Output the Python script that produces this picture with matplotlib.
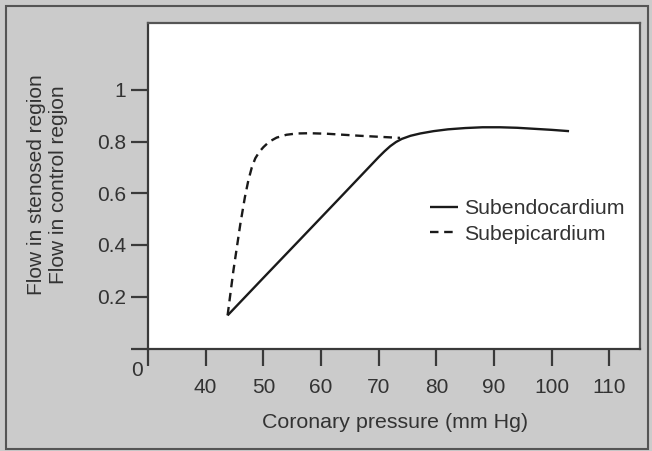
import matplotlib
matplotlib.use("Agg")
import matplotlib.pyplot as plt
from matplotlib.patches import Rectangle

plt.rcParams['font.family'] = ['Liberation Sans', 'DejaVu Sans']

# Data
endo_x = [43.8, 50.0, 56.4, 63.0, 70.0, 71.0, 72.0, 73.0, 74.0, 75.5, 77.2, 79.5,
          82.0, 85.0, 88.0, 91.0, 94.0, 97.0, 100.0, 103.0]
endo_y = [0.128, 0.273, 0.422, 0.576, 0.740, 0.762, 0.782, 0.798, 0.810, 0.822, 0.831, 0.840,
          0.847, 0.852, 0.855, 0.855, 0.853, 0.849, 0.845, 0.840]

epi_x = [43.8, 44.8, 46.0, 46.8, 47.4, 48.0, 48.6, 49.3, 50.0, 51.0, 52.3, 54.0,
         55.8, 58.0, 61.0, 66.8, 73.7]
epi_y = [0.128, 0.300, 0.480, 0.585, 0.650, 0.700, 0.735, 0.760, 0.778, 0.799, 0.815, 0.826,
         0.831, 0.832, 0.830, 0.822, 0.814]

x_ticks = [40, 50, 60, 70, 80, 90, 100, 110]
y_ticks = [0.2, 0.4, 0.6, 0.8, 1]
y_tick_labels = ['0.2', '0.4', '0.6', '0.8', '1']

W, H = 652, 451
fig = plt.figure(figsize=(W / 100, H / 100), dpi=100)
fig.patch.set_facecolor('#cbcbcb')

ax = fig.add_axes([148 / W, (H - 348.5) / H, (640 - 148) / W, (348.5 - 23) / H])
ax.set_facecolor('white')
ax.set_xlim(30, 115.3)
ax.set_ylim(0, (348.5 - 23) / 258.75)

txt = '#333333'
spc = '#3a3a3a'
for s in ['left', 'bottom']:
    ax.spines[s].set_color(spc)
    ax.spines[s].set_linewidth(1.6)
for s in ['top', 'right']:
    ax.spines[s].set_color('#555555')
    ax.spines[s].set_linewidth(1.6)

ax.plot(endo_x, endo_y, color='#1a1a1a', lw=1.7, solid_capstyle='butt',
        solid_joinstyle='round', label='Subendocardium')
ax.plot(epi_x, epi_y, color='#1a1a1a', lw=1.7, linestyle=(0, (3.6, 2.4)),
        dash_joinstyle='round', label='Subepicardium')

# ticks: include the origin ticks that form the crossing overhang
ax.set_xticks([30] + x_ticks)
ax.set_xticklabels([''] + [str(v) for v in x_ticks])
ax.set_yticks([0] + y_ticks)
ax.set_yticklabels([''] + y_tick_labels)
ax.tick_params(axis='x', length=12.5, width=1.6, color=spc, pad=9,
               labelsize=15, labelcolor=txt)
ax.tick_params(axis='y', length=12.5, width=1.6, color=spc, pad=3,
               labelsize=15, labelcolor=txt)

fig.text(137 / W, 1 - 371 / H, '0', ha='center', va='center',
         fontsize=15, color=txt)

fig.text(395 / W, 1 - 423 / H, 'Coronary pressure (mm Hg)', ha='center',
         va='center', fontsize=15.4, color=txt)
fig.text(48 / W, 1 - 185 / H, 'Flow in stenosed region\nFlow in control region',
         ha='center', va='center', rotation=90, fontsize=15, color=txt,
         linespacing=1.2)

leg = ax.legend(loc='upper left', bbox_to_anchor=((430 - 148) / 492, (348.5 - 199) / 325.5),
                frameon=False, fontsize=15.3, handlelength=1.3, handletextpad=0.3,
                labelspacing=0.31, borderpad=0, borderaxespad=0)
for t in leg.get_texts():
    t.set_color(txt)

fig.add_artist(Rectangle((5.5 / W, 2 / H), (648 - 5.5) / W, (445.5 - 2) / H,
                         transform=fig.transFigure, fill=False,
                         edgecolor='#555555', lw=1.5))

fig.savefig('out.png', dpi=100, facecolor=fig.get_facecolor())
